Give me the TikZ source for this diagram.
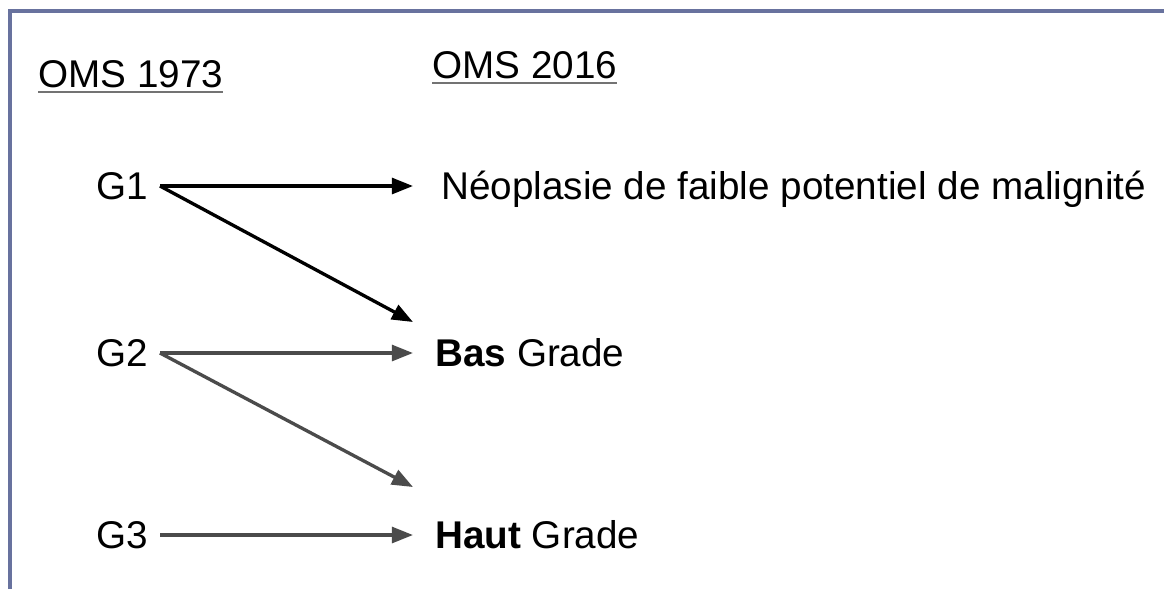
\documentclass[tikz,border=0pt]{standalone}
\usepackage{fontspec}
\setmainfont{Liberation Sans}
\definecolor{FrameBlue}{RGB}{104,114,158}
\definecolor{ArrowGray}{RGB}{75,75,75}
\definecolor{RuleGray}{RGB}{115,115,115}
\usetikzlibrary{arrows.meta}
\tikzset{
  grade/.style={inner xsep=0.24cm,inner ysep=0pt,font=\fontsize{22}{26}\selectfont},
  cible/.style={inner xsep=0.44cm,inner ysep=0pt,font=\fontsize{22}{26}\selectfont},
  titre/.style={inner sep=0pt,font=\fontsize{22}{26}\selectfont},
  fleche/.style={line width=1.9pt,-{Triangle[length=12pt,width=9pt]}},
  souligne/.style={draw=RuleGray,line width=1.1pt}
}

\begin{document}
\begin{tikzpicture}[x=0.02cm,y=-0.02cm]
    \useasboundingbox (0,0) rectangle (1168,589);
    % cadre
    \draw[FrameBlue,line width=2.8pt] (10,589) -- (10,11) -- (1164,11);

    % titres
    \node[titre,anchor=base west] (oms73) at (38,87) {OMS 1973};
    \node[titre,anchor=base west] (oms16) at (432,78) {OMS 2016};
    \draw[souligne] ([yshift=-3pt]oms73.base west) -- ([yshift=-3pt]oms73.base east);
    \draw[souligne] ([yshift=-3pt]oms16.base west) -- ([yshift=-3pt]oms16.base east);

    % grades 1973
    \node[grade,anchor=east] (g1) at (160,186) {G1};
    \node[grade,anchor=east] (g2) at (160,353) {G2};
    \node[grade,anchor=east] (g3) at (160,535) {G3};

    % classification 2016
    \node[cible,anchor=base west,inner xsep=0.56cm] (neo) at (413,199) {Néoplasie de faible potentiel de malignité};
    \node[cible,anchor=west] (bas) at (413,353) {\textbf{Bas} Grade};
    \node[cible,anchor=west] (haut) at (413,535) {\textbf{Haut} Grade};

    \draw[fleche] (g1.east) -- (neo.west |- g1.east);
    \draw[fleche] (g1.east) -- ([yshift=0.62cm]bas.west);
    \draw[fleche,ArrowGray] (g2.east) -- (bas.west);
    \draw[fleche,ArrowGray] (g2.east) -- ([yshift=0.96cm]haut.west);
    \draw[fleche,ArrowGray] (g3.east) -- (haut.west);
\end{tikzpicture}
\end{document}
